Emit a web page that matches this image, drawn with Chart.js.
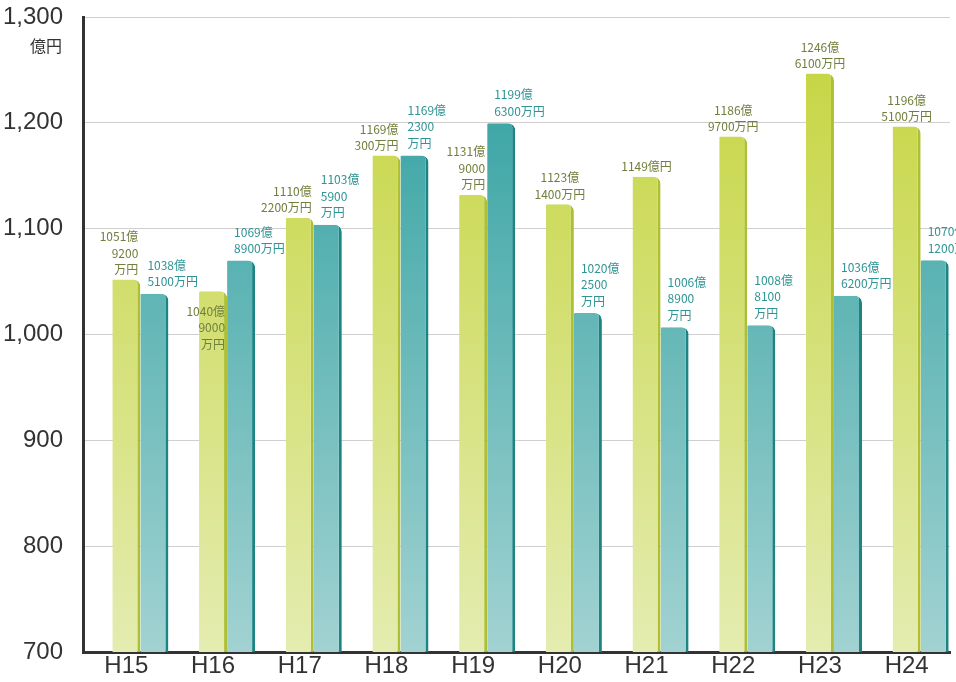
<!DOCTYPE html>
<html>
<head>
<meta charset="utf-8">
<script src="https://cdn.jsdelivr.net/npm/chart.js@4/dist/chart.umd.min.js"></script>
<style>
  html, body { margin: 0; padding: 0; background: #fff; overflow: hidden; }
  #wrap { width: 956px; height: 682px; position: relative; }
</style>
</head>
<body>
<div id="wrap"><canvas id="grafico"></canvas></div>
<script>
const years = ['H15', 'H16', 'H17', 'H18', 'H19', 'H20', 'H21', 'H22', 'H23', 'H24'];
const greenValues = [1051.92, 1040.90, 1110.22, 1169.03, 1131.90, 1123.14, 1149.00, 1186.97, 1246.61, 1196.51];
const tealValues = [1038.51, 1069.89, 1103.59, 1169.23, 1199.63, 1020.25, 1006.89, 1008.81, 1036.62, 1070.12];
const greenLabels = [
  ['1051億', '9200', '万円'], ['1040億', '9000', '万円'], ['1110億', '2200万円'], ['1169億', '300万円'],
  ['1131億', '9000', '万円'], ['1123億', '1400万円'], ['1149億円'], ['1186億', '9700万円'],
  ['1246億', '6100万円'], ['1196億', '5100万円']
];
const tealLabels = [
  ['1038億', '5100万円'], ['1069億', '8900万円'], ['1103億', '5900', '万円'], ['1169億', '2300', '万円'],
  ['1199億', '6300万円'], ['1020億', '2500', '万円'], ['1006億', '8900', '万円'], ['1008億', '8100', '万円'],
  ['1036億', '6200万円'], ['1070億', '1200万円']
];
const yMin = 700, yMax = 1300, yStep = 100;
const unitLabel = '億円';

// how the green labels sit next to their bar
const greenAlign = ['right', 'beside', 'right', 'right', 'right', 'center', 'center', 'center', 'center', 'center'];

function grad(top, bottom) {
  return function(ctx) {
    const chart = ctx.chart;
    const area = chart.chartArea;
    if (!area) return top;
    const g = chart.ctx.createLinearGradient(0, area.top, 0, area.bottom);
    g.addColorStop(0, top);
    g.addColorStop(1, bottom);
    return g;
  };
}

const labelPlugin = {
  id: 'barLabels',
  afterDraw(chart) {
    const c = chart.ctx;
    c.save();
    c.font = '12px "Noto Sans CJK JP", sans-serif';
    c.textBaseline = 'middle';
    const lh = 16.5;
    chart.getDatasetMeta(1).data.forEach(function(bar, i) {
      const lines = greenLabels[i];
      c.fillStyle = '#707f3c';
      let x, y0;
      if (greenAlign[i] === 'beside') {
        c.textAlign = 'right';
        x = bar.x + 12;
        y0 = bar.y + 20;
      } else if (greenAlign[i] === 'right') {
        c.textAlign = 'right';
        x = bar.x + 12;
        y0 = bar.y - 10 - (lines.length - 1) * lh;
      } else {
        c.textAlign = 'center';
        x = bar.x;
        y0 = bar.y - 10 - (lines.length - 1) * lh;
      }
      lines.forEach(function(t, k) { c.fillText(t, x, y0 + k * lh); });
    });
    chart.getDatasetMeta(2).data.forEach(function(bar, i) {
      const lines = tealLabels[i];
      c.fillStyle = '#2f9494';
      c.textAlign = 'left';
      const y0 = bar.y - 12 - (lines.length - 1) * lh;
      lines.forEach(function(t, k) { c.fillText(t, bar.x - 7, y0 + k * lh); });
    });
    // unit under the top tick
    c.font = '16px "Noto Sans CJK JP", sans-serif';
    c.fillStyle = '#333';
    c.textAlign = 'right';
    c.fillText(unitLabel, 62, 46);
    c.restore();
  }
};

const ctx = document.getElementById('grafico').getContext('2d');
new Chart(ctx, {
  type: 'bar',
  data: {
    labels: years,
    datasets: [
      { label: 'spacer', data: [] },
      {
        label: 'green',
        data: greenValues,
        backgroundColor: grad('#c4d43c', '#e4ecb0'),
        borderColor: '#aebf34',
        borderWidth: { top: 0, left: 0, bottom: 0, right: 3 },
        borderRadius: { topLeft: 1, topRight: 7 },
        borderSkipped: 'bottom'
      },
      {
        label: 'teal',
        data: tealValues,
        backgroundColor: grad('#2c9e9e', '#a2d2d2'),
        borderColor: '#1d8484',
        borderWidth: { top: 0, left: 0, bottom: 0, right: 3 },
        borderRadius: { topLeft: 1, topRight: 7 },
        borderSkipped: 'bottom'
      }
    ]
  },
  options: {
    responsive: true,
    maintainAspectRatio: false,
    animation: false,
    layout: { padding: { top: 17, right: 6, left: 0, bottom: 0 } },
    datasets: { bar: { categoryPercentage: 0.97, barPercentage: 1 } },
    plugins: { legend: { display: false }, tooltip: { enabled: false } },
    scales: {
      x: {
        grid: { display: false, drawTicks: false },
        border: { color: '#333', width: 3 },
        ticks: { color: '#333', font: { size: 24, family: 'Liberation Sans' }, padding: 0 },
        afterFit: function(s) { s.height = 30; s.paddingLeft = 0; s.paddingRight = 0; }
      },
      y: {
        min: yMin,
        max: yMax,
        grid: { color: '#cfcfcf', lineWidth: 1, drawTicks: false },
        border: { color: '#333', width: 3 },
        ticks: {
          stepSize: yStep,
          color: '#333',
          padding: 20,
          font: { size: 24, family: 'Liberation Sans' },
          callback: function(v) { return v.toLocaleString('en-US'); }
        },
        afterFit: function(s) { s.width = 83; s.paddingTop = 0; s.paddingBottom = 0; }
      }
    }
  },
  plugins: [labelPlugin]
});
</script>
</body>
</html>
